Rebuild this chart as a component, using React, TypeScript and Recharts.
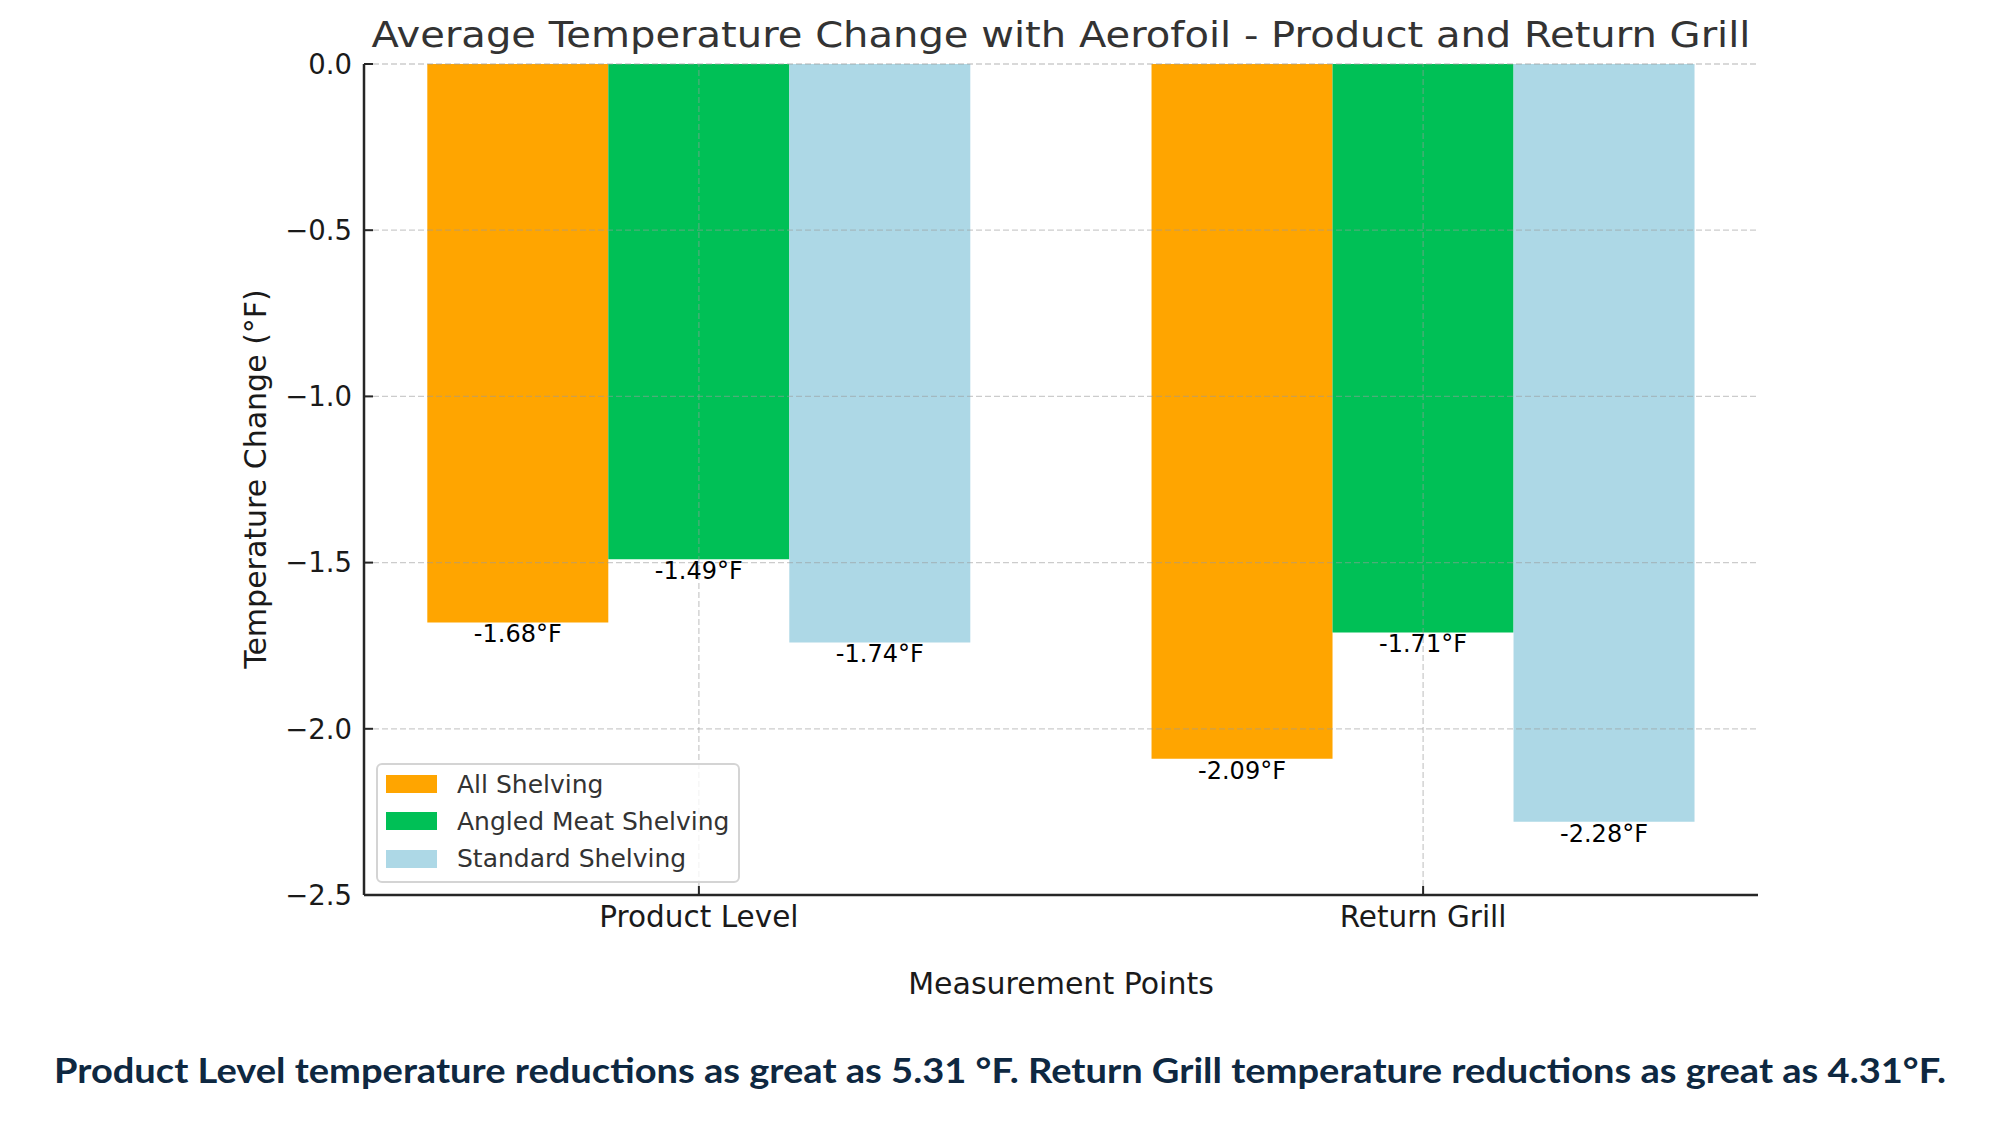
import React from 'react';
import { BarChart, Bar, XAxis, YAxis, ReferenceLine, Legend, LabelList } from 'recharts';

const categories = ['Product Level', 'Return Grill'];
const allShelving = [-1.68, -2.09];
const angledMeatShelving = [-1.49, -1.71];
const standardShelving = [-1.74, -2.28];
const yTicks = [0, -0.5, -1.0, -1.5, -2.0, -2.5];
const seriesNames = ['All Shelving', 'Angled Meat Shelving', 'Standard Shelving'];
const seriesColors = ['#FFA500', '#00C056', '#ADD8E6'];

const data = categories.map((c, i) => ({
  x: i,
  name: c,
  all: allShelving[i],
  angled: angledMeatShelving[i],
  standard: standardShelving[i],
}));

const FONT = '"DejaVu Sans", sans-serif';
const GRID = { stroke: '#9a9a9a', strokeOpacity: 0.5, strokeDasharray: '6 3', strokeWidth: 1.3 };

const fmtY = (v: number) => (v === 0 ? '0.0' : '\u2212' + Math.abs(v).toFixed(1));

const BarValueLabel = (props: any) => {
  const { x, y, width, height, value } = props;
  if (value == null) return null;
  const bottom = Math.max(Number(y), Number(y) + Number(height));
  return (
    <text
      x={Number(x) + Number(width) / 2}
      y={bottom + 20}
      textAnchor="middle"
      fontFamily={FONT}
      fontSize={24}
      fill="#000"
    >
      {`${Number(value).toFixed(2)}°F`}
    </text>
  );
};

const LegendBox = (props: any) => {
  const payload =
    props.payload && props.payload.length
      ? props.payload
      : seriesNames.map((n, i) => ({ value: n, color: seriesColors[i] }));
  return (
    <div
      style={{
        position: 'relative',
        width: 364,
        height: 120,
        boxSizing: 'border-box',
        border: '2px solid #d4d4d4',
        borderRadius: 6,
        background: 'rgba(255,255,255,0.8)',
        fontFamily: FONT,
      }}
    >
      {payload.map((p: any, i: number) => (
        <div key={i} style={{ position: 'absolute', left: 0, top: 19 + i * 37.3, width: '100%' }}>
          <div style={{ position: 'absolute', left: 8, top: -9, width: 51, height: 18, background: p.color }} />
          <div
            style={{
              position: 'absolute',
              left: 79,
              top: -14.5,
              fontSize: 25,
              lineHeight: '30px',
              color: '#333',
              whiteSpace: 'nowrap',
            }}
          >
            {p.value}
          </div>
        </div>
      ))}
    </div>
  );
};

export default function App() {
  return (
    <div style={{ position: 'absolute', left: 0, top: 0, width: 2000, height: 1125, background: '#fff' }}>
      <BarChart
        width={2000}
        height={1125}
        data={data}
        margin={{ top: 64, right: 242, bottom: 170, left: 264 }}
        barGap={0}
        barCategoryGap="12.5%"
      >
        <XAxis
          type="number"
          dataKey="x"
          domain={[-0.4624, 1.4624]}
          allowDataOverflow
          ticks={[0, 1]}
          tickFormatter={(v: number) => categories[v] ?? ''}
          height={60}
          axisLine={{ stroke: '#262626', strokeWidth: 2.5 }}
          tickLine={{ stroke: '#262626', strokeWidth: 2 }}
          tickSize={-9}
          tickMargin={20}
          tick={{ fontFamily: FONT, fontSize: 29.5, fill: '#1a1a1a' }}
        />
        <YAxis
          type="number"
          domain={[-2.5, 0]}
          allowDataOverflow
          ticks={yTicks}
          tickFormatter={fmtY}
          width={100}
          axisLine={{ stroke: '#262626', strokeWidth: 2.5 }}
          tickLine={{ stroke: '#262626', strokeWidth: 2 }}
          tickSize={-9}
          tickMargin={21}
          tick={{ fontFamily: FONT, fontSize: 27.5, fill: '#1a1a1a' }}
        />
        <Bar dataKey="all" name={seriesNames[0]} fill={seriesColors[0]} isAnimationActive={false}>
          <LabelList dataKey="all" content={BarValueLabel} />
        </Bar>
        <Bar dataKey="angled" name={seriesNames[1]} fill={seriesColors[1]} isAnimationActive={false}>
          <LabelList dataKey="angled" content={BarValueLabel} />
        </Bar>
        <Bar dataKey="standard" name={seriesNames[2]} fill={seriesColors[2]} isAnimationActive={false}>
          <LabelList dataKey="standard" content={BarValueLabel} />
        </Bar>
        {yTicks.filter((t) => t !== -2.5).map((t) => (
          <ReferenceLine key={'y' + t} y={t} {...GRID} />
        ))}
        {categories.map((c, i) => (
          <ReferenceLine key={'x' + c} x={i} {...GRID} />
        ))}
        <Legend
          layout="horizontal"
          verticalAlign="middle"
          align="center"
          content={LegendBox}
          wrapperStyle={{ position: 'absolute', left: 376, top: 763, width: 364, height: 120 }}
        />
      </BarChart>
      <svg
        width={2000}
        height={1125}
        style={{ position: 'absolute', left: 0, top: 0, pointerEvents: 'none' }}
      >
        <text
          x={1061}
          y={47}
          textAnchor="middle"
          fontFamily={FONT}
          fontSize={35.5}
          fill="#333"
          textLength={1379}
          lengthAdjust="spacingAndGlyphs"
        >
          Average Temperature Change with Aerofoil - Product and Return Grill
        </text>
        <text
          transform="translate(266, 479) rotate(-90)"
          textAnchor="middle"
          fontFamily={FONT}
          fontSize={30}
          fill="#1a1a1a"
        >
          Temperature Change (°F)
        </text>
        <text x={1061} y={994} textAnchor="middle" fontFamily={FONT} fontSize={30} fill="#1a1a1a">
          Measurement Points
        </text>
        <text
          x={1000}
          y={1083}
          textAnchor="middle"
          fontFamily="Lato, sans-serif"
          fontWeight={700}
          fontSize={34}
          fill="#0E2841"
          textLength={1892}
          lengthAdjust="spacingAndGlyphs"
        >
          Product Level temperature reductions as great as 5.31 °F. Return Grill temperature reductions as great as  4.31°F.
        </text>
      </svg>
    </div>
  );
}
